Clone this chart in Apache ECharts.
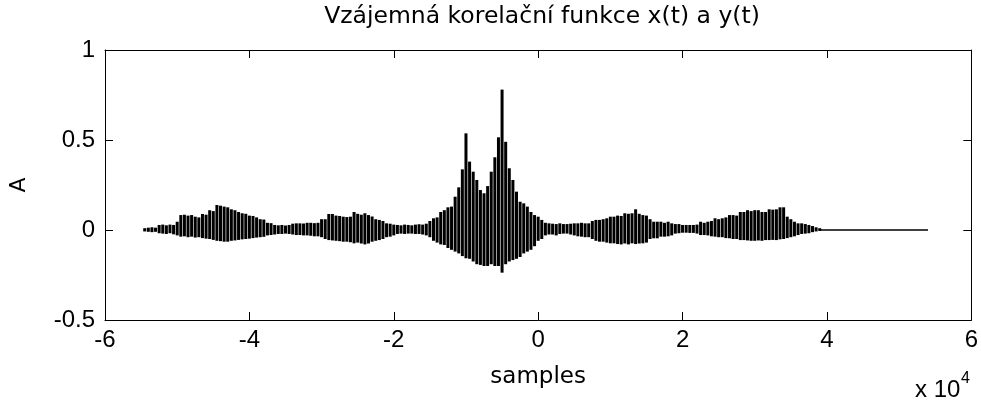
<!DOCTYPE html>
<html>
<head>
<meta charset="utf-8">
<script src="https://cdn.jsdelivr.net/npm/echarts@6/dist/echarts.min.js"></script>
<style>
  html, body { margin: 0; padding: 0; background: #fff; }
  #main { width: 981px; height: 401px; }
</style>
</head>
<body>
<div id="main"></div>
<script>
// lag axis: samples, sampled every 500 from the first non-zero lag
const lagStart = -54500;
const lagStep = 500;

// envelope (max / min of the correlation around each lag)
const upperEnv = [
  0.01,
  0.013, 0.015, 0.013, 0.028, 0.03, 0.026, 0.03, 0.028, 0.046,
  0.083, 0.085, 0.08, 0.083, 0.074, 0.07, 0.089, 0.085, 0.11, 0.105,
  0.139, 0.135, 0.13, 0.126, 0.115, 0.11, 0.1, 0.093, 0.09, 0.08,
  0.078, 0.07, 0.06, 0.058, 0.04, 0.038, 0.028, 0.026, 0.028, 0.025,
  0.028, 0.035, 0.037, 0.037, 0.036, 0.04, 0.04, 0.038, 0.04, 0.06,
  0.06, 0.089, 0.089, 0.08, 0.078, 0.074, 0.072, 0.074, 0.1, 0.09,
  0.085, 0.093, 0.083, 0.075, 0.06, 0.056, 0.05, 0.037, 0.035, 0.03,
  0.028, 0.026, 0.03, 0.028, 0.026, 0.03, 0.032, 0.03, 0.035, 0.05,
  0.065, 0.07, 0.1, 0.11, 0.126, 0.13, 0.185, 0.237, 0.337, 0.537,
  0.38, 0.324, 0.278, 0.222, 0.204, 0.244, 0.324, 0.404, 0.515, 0.78,
  0.49, 0.343, 0.278, 0.213, 0.157, 0.148, 0.13, 0.1, 0.083, 0.074,
  0.056, 0.04, 0.037, 0.035, 0.033, 0.037, 0.033, 0.033, 0.035, 0.037,
  0.037, 0.04, 0.037, 0.037, 0.05, 0.056, 0.056, 0.06, 0.065, 0.074,
  0.074, 0.08, 0.078, 0.093, 0.09, 0.093, 0.115, 0.09, 0.083, 0.08,
  0.06, 0.046, 0.046, 0.046, 0.04, 0.046, 0.037, 0.033, 0.033, 0.028,
  0.028, 0.028, 0.028, 0.03, 0.046, 0.04, 0.046, 0.05, 0.065, 0.06,
  0.065, 0.07, 0.083, 0.083, 0.08, 0.1, 0.1, 0.11, 0.105, 0.11,
  0.11, 0.1, 0.1, 0.115, 0.113, 0.115, 0.126, 0.126, 0.074, 0.06,
  0.046, 0.037, 0.037, 0.033, 0.028, 0.022, 0.015, 0.01
];
const lowerEnv = [
  -0.008,
  -0.01, -0.012, -0.01, -0.018, -0.02, -0.022, -0.018, -0.024, -0.03,
  -0.037, -0.035, -0.04, -0.037, -0.042, -0.04, -0.045, -0.048, -0.05, -0.055,
  -0.06, -0.062, -0.065, -0.065, -0.06, -0.058, -0.055, -0.052, -0.05, -0.048,
  -0.045, -0.042, -0.04, -0.038, -0.03, -0.028, -0.025, -0.022, -0.022, -0.02,
  -0.022, -0.025, -0.028, -0.028, -0.03, -0.03, -0.032, -0.035, -0.035, -0.04,
  -0.05, -0.056, -0.058, -0.06, -0.062, -0.065, -0.065, -0.068, -0.074, -0.07,
  -0.075, -0.08, -0.075, -0.065, -0.06, -0.056, -0.05, -0.04, -0.037, -0.03,
  -0.022, -0.02, -0.022, -0.02, -0.02, -0.022, -0.022, -0.025, -0.03, -0.04,
  -0.06, -0.07, -0.08, -0.083, -0.1, -0.11, -0.12, -0.13, -0.145, -0.157,
  -0.16, -0.175, -0.19, -0.194, -0.2, -0.2, -0.19, -0.2, -0.2, -0.237,
  -0.19, -0.175, -0.167, -0.16, -0.15, -0.13, -0.12, -0.11, -0.09, -0.06,
  -0.05, -0.03, -0.025, -0.025, -0.03, -0.022, -0.02, -0.02, -0.025, -0.03,
  -0.035, -0.037, -0.04, -0.04, -0.05, -0.06, -0.065, -0.065, -0.07, -0.074,
  -0.074, -0.078, -0.08, -0.075, -0.08, -0.074, -0.078, -0.075, -0.074, -0.07,
  -0.05, -0.046, -0.046, -0.037, -0.037, -0.035, -0.03, -0.02, -0.018, -0.015,
  -0.015, -0.016, -0.016, -0.02, -0.028, -0.028, -0.03, -0.035, -0.037, -0.04,
  -0.04, -0.045, -0.046, -0.05, -0.05, -0.056, -0.056, -0.058, -0.06, -0.06,
  -0.058, -0.06, -0.056, -0.056, -0.055, -0.056, -0.052, -0.05, -0.045, -0.04,
  -0.035, -0.028, -0.022, -0.02, -0.018, -0.012, -0.008, -0.005
];

// flat zero tail after the last non-zero lag
const tailLags = [39000, 54000];
const tailValues = [0, 0];

const xTicks = [-60000, 60000, 20000]; // min, max, step
const yTicks = [-0.5, 1, 0.5];

const envData = upperEnv.map((u, i) => [lagStart + i * lagStep, lowerEnv[i], u]);
const tailData = tailLags.map((x, i) => [x, tailValues[i]]);

const chart = echarts.init(document.getElementById('main'), null, { renderer: 'canvas' });

const axisBase = {
  axisLine: { onZero: false, lineStyle: { color: '#000', width: 1 } },
  axisTick: { inside: true, length: 8, lineStyle: { color: '#000' } },
  splitLine: { show: false }
};
const tickFont = { color: '#000', fontSize: 24, fontFamily: 'Liberation Sans' };

const option = {
  backgroundColor: '#fff',
  animation: false,
  grid: { left: 103, right: 8, top: 50, bottom: 81 },
  xAxis: [
    {
      ...axisBase,
      type: 'value', position: 'bottom',
      min: xTicks[0], max: xTicks[1], interval: xTicks[2],
      axisLabel: { ...tickFont, margin: 8, formatter: v => String(v / 10000) },
      name: 'samples', nameLocation: 'middle', nameGap: 46,
      nameTextStyle: { color: '#000', fontSize: 23, fontFamily: 'DejaVu Sans' }
    },
    {
      ...axisBase,
      type: 'value', position: 'top',
      min: xTicks[0], max: xTicks[1], interval: xTicks[2],
      axisLabel: { show: false }
    }
  ],
  yAxis: [
    {
      ...axisBase,
      type: 'value', position: 'left',
      min: yTicks[0], max: yTicks[1], interval: yTicks[2],
      axisLabel: { ...tickFont, margin: 10 },
      name: 'A', nameLocation: 'middle', nameGap: 75, nameRotate: 90,
      nameTextStyle: { color: '#000', fontSize: 22, fontFamily: 'DejaVu Sans' }
    },
    {
      ...axisBase,
      type: 'value', position: 'right',
      min: yTicks[0], max: yTicks[1], interval: yTicks[2],
      axisLabel: { show: false }
    }
  ],
  graphic: [
    {
      type: 'text', x: 542, y: 5,
      style: {
        text: 'Vzájemná korelační funkce x(t) a y(t)',
        fill: '#000', font: '23.5px "DejaVu Sans"', textAlign: 'center'
      }
    },
    {
      type: 'text', x: 915, y: 378,
      style: { text: 'x 10', fill: '#000', font: '24px "Liberation Sans"' }
    },
    {
      type: 'text', x: 961, y: 371,
      style: { text: '4', fill: '#000', font: '16px "Liberation Sans"' }
    }
  ],
  series: [
    {
      type: 'custom',
      data: envData,
      clip: true,
      renderItem: (params, api) => {
        const x = api.value(0);
        const top = api.coord([x, api.value(2)]);
        const bot = api.coord([x, api.value(1)]);
        return {
          type: 'line',
          shape: { x1: top[0], y1: top[1], x2: bot[0], y2: bot[1] },
          style: { stroke: '#000', lineWidth: 3 }
        };
      }
    },
    {
      type: 'line',
      data: tailData,
      symbol: 'none',
      lineStyle: { color: '#000', width: 1.5 }
    }
  ]
};

chart.setOption(option);
</script>
</body>
</html>
